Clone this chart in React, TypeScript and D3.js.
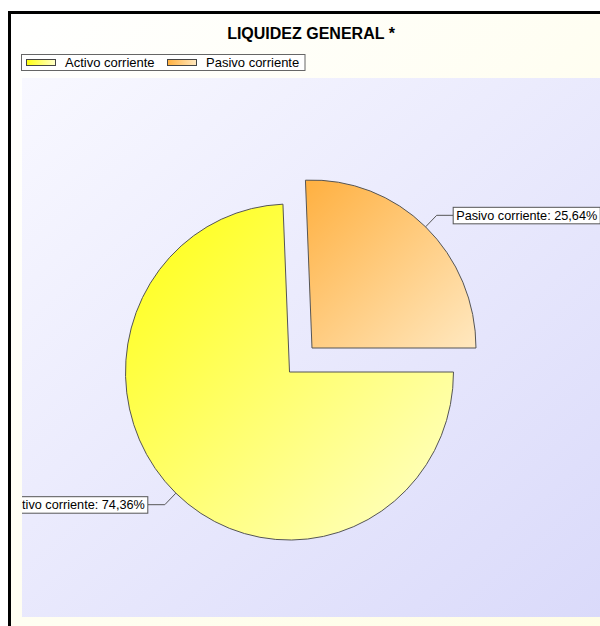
import React from "react";
import * as d3 from "d3";

const title = "LIQUIDEZ GENERAL *";
const categories = ["Activo corriente", "Pasivo corriente"];
const values = [74.36, 25.64];
const exploded = [0, 0.198];
const colorsStart = ["#ffff10", "#ffb040"];
const colorsEnd = ["#ffffcc", "#ffe8c0"];

const W = 600;
const H = 626;

function measure(text: string, font: string): number {
  if (typeof document === "undefined") return text.length * 7;
  const c = document.createElement("canvas");
  const ctx = c.getContext("2d");
  if (!ctx) return text.length * 7;
  ctx.font = font;
  return ctx.measureText(text).width;
}

export default function App() {
  const cx = 289.5;
  const cy = 372;
  const rx = 164;
  const ry = 168;
  const plot = { x: 22, y: 78, w: 620, h: 539 };

  const pie = d3
    .pie<number>()
    .sort(null)
    .startAngle(Math.PI / 2)
    .endAngle(Math.PI / 2 + 2 * Math.PI)
    .value((d) => d);
  const arcs = pie(values);
  const arc = d3.arc<d3.PieArcDatum<number>>().innerRadius(0).outerRadius(1);
  const fmt = (v: number) => v.toFixed(2).replace(".", ",") + "%";
  const labelSize = 12.7;
  const labelFont = `${labelSize}px Arial, 'Liberation Sans', sans-serif`;

  return (
    <svg
      width={W}
      height={H}
      style={{ position: "absolute", left: 0, top: 0 }}
      fontFamily="Arial, 'Liberation Sans', sans-serif"
    >
      <defs>
        <linearGradient id="bgGrad" x1="0" y1="0" x2="1" y2="1">
          <stop offset="0" stopColor="#ffffff" />
          <stop offset="1" stopColor="#fffde4" />
        </linearGradient>
        <linearGradient id="plotGrad" x1="0" y1="0" x2="1" y2="1">
          <stop offset="0" stopColor="#f8f8ff" />
          <stop offset="1" stopColor="#d9d9fa" />
        </linearGradient>
        {categories.map((_, i) => (
          <linearGradient key={i} id={`sg${i}`} x1="0" y1="0" x2="1" y2="1">
            <stop offset="0" stopColor={colorsStart[i]} />
            <stop offset="1" stopColor={colorsEnd[i]} />
          </linearGradient>
        ))}
        {categories.map((_, i) => (
          <linearGradient key={i} id={`lg${i}`} x1="0" y1="0" x2="1" y2="0">
            <stop offset="0" stopColor={colorsStart[i]} />
            <stop offset="1" stopColor={colorsEnd[i]} />
          </linearGradient>
        ))}
        <clipPath id="plotClip">
          <rect x={plot.x} y={plot.y} width={plot.w} height={plot.h} />
        </clipPath>
      </defs>

      <rect x={9.5} y={12.5} width={620} height={640} fill="url(#bgGrad)" stroke="#000" strokeWidth={3} />

      <text x={311} y={39} textAnchor="middle" fontWeight="bold" fontSize={16} fill="#000">
        {title}
      </text>

      <g>
        <rect x={21.5} y={54.5} width={283.5} height={16} fill="#ffffff" stroke="#666" strokeWidth={1} />
        {categories.map((c, i) => {
          const sx = i === 0 ? 26.5 : 167.5;
          return (
            <g key={c}>
              <rect x={sx} y={59.5} width={29} height={6} fill={`url(#lg${i})`} stroke="#444" strokeWidth={1} />
              <text x={sx + 38.5} y={67} fontSize={13} fill="#000">
                {c}
              </text>
            </g>
          );
        })}
      </g>

      <rect x={plot.x} y={plot.y} width={plot.w} height={plot.h} fill="url(#plotGrad)" />

      <g clipPath="url(#plotClip)">
        {arcs.map((a, i) => {
          const m = (a.startAngle + a.endAngle) / 2;
          const dx = Math.sin(m) * exploded[i];
          const dy = -Math.cos(m) * exploded[i];
          return (
            <g key={i} transform={`translate(${cx},${cy}) scale(${rx},${ry}) translate(${dx},${dy})`}>
              <path
                d={arc(a) || ""}
                fill={`url(#sg${i})`}
                stroke="#555"
                strokeWidth={1}
                vectorEffect="non-scaling-stroke"
              />
            </g>
          );
        })}
        {arcs.map((a, i) => {
          const m = (a.startAngle + a.endAngle) / 2;
          const s = Math.sin(m);
          const c = -Math.cos(m);
          const px = cx + rx * (s * exploded[i] + s);
          const py = cy + ry * (c * exploded[i] + c);
          const ex = px + 16 * s;
          const ey = py + 16 * c;
          const right = s >= 0;
          const hx = right ? ex + 16.5 : ex - 17;
          const label = `${categories[i]}: ${fmt(values[i])}`;
          const tw = measure(label, labelFont);
          const bw = tw + 6;
          const bx = right ? hx : hx - bw;
          return (
            <g key={`l${i}`}>
              <polyline
                points={`${px},${py} ${ex},${ey} ${hx},${ey}`}
                fill="none"
                stroke="#555"
                strokeWidth={1}
              />
              <rect x={bx} y={ey - 8} width={bw} height={16.5} fill="#ffffff" stroke="#555" strokeWidth={1} />
              <text x={bx + 3} y={ey + 4.5} fontSize={labelSize} fill="#000">
                {label}
              </text>
            </g>
          );
        })}
      </g>
    </svg>
  );
}
